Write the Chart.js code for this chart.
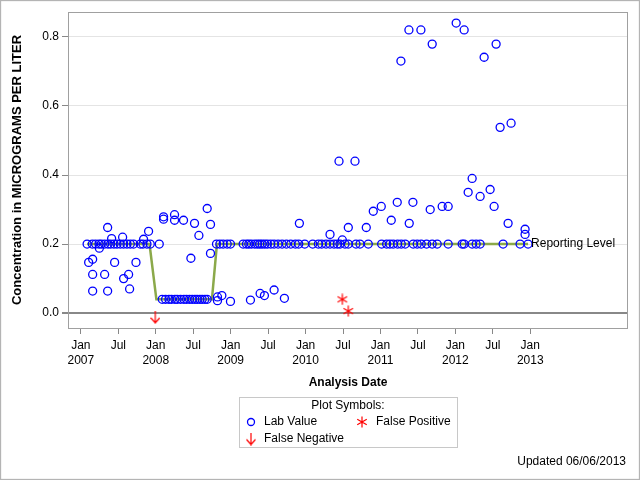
<!DOCTYPE html>
<html>
<head>
<meta charset="utf-8">
<script src="https://cdn.jsdelivr.net/npm/chart.js@4.4.1/dist/chart.umd.min.js"></script>
<style>
  html, body { margin: 0; padding: 0; background: #fff; }
  #wrap { position: relative; width: 640px; height: 480px; }
</style>
</head>
<body>
<div id="wrap"><canvas id="chart" width="640" height="480"></canvas></div>
<script>
// x values are months since Jan 2007

// lab values sitting on the 0.2 reporting level
const atLevelMonths = [
  1.0, 1.84, 2.37, 2.91, 3.28, 3.81, 4.35, 4.77, 5.31, 5.79, 6.32, 6.85, 7.39, 7.92, 8.45,
  9.52, 9.95, 10.59, 11.12, 12.56,
  21.73, 22.27, 22.8, 23.44, 23.97, 26.0, 26.53, 26.91, 27.33, 27.87, 28.29, 28.67, 29.04,
  29.47, 29.89, 30.43, 30.96, 31.6, 32.24, 32.93, 33.63, 34.37, 34.91, 35.87, 37.15, 38.05,
  38.59, 39.28, 39.92, 40.56, 41.09, 41.52, 42.32, 42.85, 44.08, 44.72, 46.05, 48.19, 48.99,
  49.52, 50.05, 50.75, 51.33, 51.97, 53.25, 53.89, 54.53, 55.39, 56.29, 57.09, 58.85, 61.09,
  61.41, 62.69, 63.33, 63.97, 67.65, 70.37, 71.65
];
const atLevelConc = 0.2;

// lab values sitting on the 0.04 reporting level (2008)
const lowLevelMonths = [
  13.04, 13.57, 14.11, 14.53, 15.07, 15.44, 15.97, 16.51, 16.93, 17.41, 17.84, 18.27,
  18.64, 19.07, 19.44, 19.87, 20.24
];
const lowLevelConc = 0.04;

// other lab values
const labMonths = [
  1.25, 1.89, 1.89, 1.89, 2.96, 3.81, 4.29, 4.29, 4.93, 5.41, 6.69, 6.85, 7.65, 7.81, 8.83,
  10.05, 10.85,
  13.25, 13.25, 15.01, 15.01, 16.45, 17.63, 18.21, 18.91, 20.24, 20.77, 20.77, 21.89, 21.89,
  22.59, 23.97,
  27.17, 28.72, 29.41, 30.96, 32.61, 35.01, 39.92, 41.36, 41.89, 42.85, 43.92, 45.73, 46.85,
  48.13, 49.73, 50.69, 51.28, 52.61, 52.56, 53.2, 54.48, 55.97, 56.29, 57.89, 58.85, 60.13,
  61.41, 62.05, 62.69, 63.97, 64.61, 65.57, 66.21, 66.53, 67.17, 68.45, 68.93, 71.17, 71.17
];
const labConc = [
  0.147, 0.156, 0.112, 0.064, 0.188, 0.112, 0.248, 0.064, 0.216, 0.147, 0.22, 0.10, 0.112, 0.07, 0.147,
  0.214, 0.237,
  0.279, 0.272, 0.285, 0.269, 0.269, 0.159, 0.26, 0.225, 0.303, 0.257, 0.173, 0.047, 0.036,
  0.051, 0.034,
  0.038, 0.057, 0.051, 0.067, 0.043, 0.26, 0.228, 0.44, 0.212, 0.248, 0.44, 0.248, 0.295,
  0.309, 0.269, 0.321, 0.73, 0.26, 0.82, 0.321, 0.82, 0.30, 0.779, 0.309, 0.309, 0.84,
  0.82, 0.35, 0.39, 0.338, 0.741, 0.358, 0.309, 0.779, 0.538, 0.26, 0.55, 0.243, 0.228
];

// false positives / false negatives
const falsePosMonths = [41.89, 42.85];
const falsePosConc = [0.04, 0.006];
const falseNegMonths = [11.92];
const falseNegConc = [-0.012];

// reporting level step line
const levelMonths = [1.0, 11.0, 12.1, 21.0, 21.8, 71.65];
const levelConc = [0.2, 0.2, 0.04, 0.04, 0.2, 0.2];

// axis ticks
const xTickMonths = [0, 6, 12, 18, 24, 30, 36, 42, 48, 54, 60, 66, 72];
const xTickLabels = [['Jan', '2007'], 'Jul', ['Jan', '2008'], 'Jul', ['Jan', '2009'], 'Jul',
  ['Jan', '2010'], 'Jul', ['Jan', '2011'], 'Jul', ['Jan', '2012'], 'Jul', ['Jan', '2013']];
const yTickValues = [0, 0.2, 0.4, 0.6, 0.8];

const BLUE = '#0000ff';
const RED = '#ff0000';
const GREEN = '#8ba94a';
const FONT = "'Liberation Sans', Arial, sans-serif";

function pairs(xs, ys) {
  return xs.map((x, i) => ({ x: x, y: Array.isArray(ys) ? ys[i] : ys }));
}

function makeAsterisk(size, color) {
  const c = document.createElement('canvas');
  c.width = size; c.height = size;
  const g = c.getContext('2d');
  g.strokeStyle = color;
  g.lineWidth = 1.2;
  const cx = size / 2, r = size / 2 - 0.5;
  g.beginPath();
  [90, 30, 150].forEach(a => {
    const t = a * Math.PI / 180;
    g.moveTo(cx - r * Math.cos(t), cx - r * Math.sin(t));
    g.lineTo(cx + r * Math.cos(t), cx + r * Math.sin(t));
  });
  g.stroke();
  return c;
}

function makeArrow(w, h, color) {
  const c = document.createElement('canvas');
  c.width = w; c.height = h;
  const g = c.getContext('2d');
  g.strokeStyle = color;
  g.lineWidth = 1.2;
  const cx = w / 2;
  g.beginPath();
  g.moveTo(cx, 0); g.lineTo(cx, h - 1);
  g.moveTo(0.5, h - 1 - (w / 2)); g.lineTo(cx, h - 1); g.lineTo(w - 0.5, h - 1 - (w / 2));
  g.stroke();
  return c;
}

const asteriskIcon = makeAsterisk(12, RED);
const arrowIcon = makeArrow(10, 13, RED);

const extras = {
  id: 'extras',
  afterDatasetsDraw(chart) {
    const { ctx, chartArea: a } = chart;
    ctx.save();
    // plot frame
    ctx.strokeStyle = '#a0a0a0';
    ctx.lineWidth = 1;
    ctx.strokeRect(Math.round(a.left) - 0.5, Math.round(a.top) + 0.5,
      Math.round(a.right - a.left) + 1, Math.round(a.bottom - a.top));
    // reporting level label
    const meta = chart.getDatasetMeta(4);
    const last = meta.data[meta.data.length - 1];
    ctx.fillStyle = '#000';
    ctx.font = '12px ' + FONT;
    ctx.textBaseline = 'middle';
    ctx.textAlign = 'left';
    ctx.fillText('Reporting Level', last.x + 3, last.y);
    ctx.restore();
  },
  afterDraw(chart) {
    const { ctx } = chart;
    ctx.save();
    // legend box
    ctx.strokeStyle = '#c8c8c8';
    ctx.lineWidth = 1;
    ctx.strokeRect(239.5, 397.5, 218, 50);
    ctx.fillStyle = '#000';
    ctx.font = '12px ' + FONT;
    ctx.textBaseline = 'middle';
    ctx.textAlign = 'center';
    ctx.fillText('Plot Symbols:', 348, 406);
    ctx.textAlign = 'left';
    ctx.strokeStyle = BLUE;
    ctx.lineWidth = 1.3;
    ctx.beginPath();
    ctx.arc(251, 422, 3.5, 0, Math.PI * 2);
    ctx.stroke();
    ctx.fillText('Lab Value', 264, 422);
    ctx.drawImage(asteriskIcon, 362 - 6, 422 - 6);
    ctx.fillText('False Positive', 376, 422);
    ctx.drawImage(arrowIcon, 251 - 5, 439 - 6.5);
    ctx.fillText('False Negative', 264, 439);
    // footnote
    ctx.textAlign = 'right';
    ctx.fillText('Updated 06/06/2013', 626, 462);
    // outer border
    ctx.strokeStyle = '#b4b4b4';
    ctx.strokeRect(0.5, 0.5, 639, 479);
    ctx.restore();
  }
};

Chart.defaults.font.family = FONT;
Chart.defaults.font.size = 12;
Chart.defaults.color = '#000';

new Chart(document.getElementById('chart'), {
  type: 'scatter',
  data: {
    datasets: [
      {
        data: pairs(labMonths, labConc),
        pointStyle: 'circle', pointRadius: 4, borderWidth: 1.3,
        borderColor: BLUE, backgroundColor: 'rgba(0,0,0,0)'
      },
      {
        data: pairs(atLevelMonths, atLevelConc).concat(pairs(lowLevelMonths, lowLevelConc)),
        pointStyle: 'circle', pointRadius: 4, borderWidth: 1.3,
        borderColor: BLUE, backgroundColor: 'rgba(0,0,0,0)'
      },
      {
        data: pairs(falsePosMonths, falsePosConc),
        pointStyle: asteriskIcon, pointRadius: 6
      },
      {
        data: pairs(falseNegMonths, falseNegConc),
        pointStyle: arrowIcon, pointRadius: 6
      },
      {
        data: pairs(levelMonths, levelConc),
        showLine: true, borderColor: GREEN, borderWidth: 2.5, pointRadius: 0,
        order: 5
      }
    ]
  },
  options: {
    responsive: false,
    animation: false,
    events: [],
    layout: { padding: { top: 12, right: 13, left: 0, bottom: 0 } },
    plugins: { legend: { display: false }, tooltip: { enabled: false } },
    scales: {
      x: {
        type: 'linear',
        min: -1.9,
        max: 87.5,
        afterBuildTicks: s => { s.ticks = xTickMonths.map(v => ({ value: v })); },
        afterFit: s => { s.height = 152; },
        ticks: {
          autoSkip: false, maxRotation: 0, padding: 4,
          font: { size: 12, lineHeight: 1.25 },
          callback: (v) => xTickLabels[xTickMonths.indexOf(v)]
        },
        grid: { drawOnChartArea: false, tickLength: 6, tickColor: '#888' },
        border: { display: false },
        title: {
          display: true, text: 'Analysis Date',
          font: { size: 12, weight: 'bold' },
          padding: { top: 0, bottom: 90 }
        }
      },
      y: {
        min: -0.043,
        max: 0.872,
        afterBuildTicks: s => { s.ticks = yTickValues.map(v => ({ value: v })); },
        afterFit: s => { s.width = 69; },
        ticks: { padding: 3, callback: v => v.toFixed(1) },
        grid: {
          color: c => (c.tick && c.tick.value === 0) ? '#888' : '#e4e4e4',
          lineWidth: c => (c.tick && c.tick.value === 0) ? 2 : 1,
          tickColor: '#888', tickLength: 7
        },
        border: { display: false },
        title: {
          display: true, text: 'Concentration in MICROGRAMS PER LITER',
          font: { size: 13, weight: 'bold' },
          padding: { top: 10, bottom: 0 }
        }
      }
    }
  },
  plugins: [extras]
});
</script>
</body>
</html>
